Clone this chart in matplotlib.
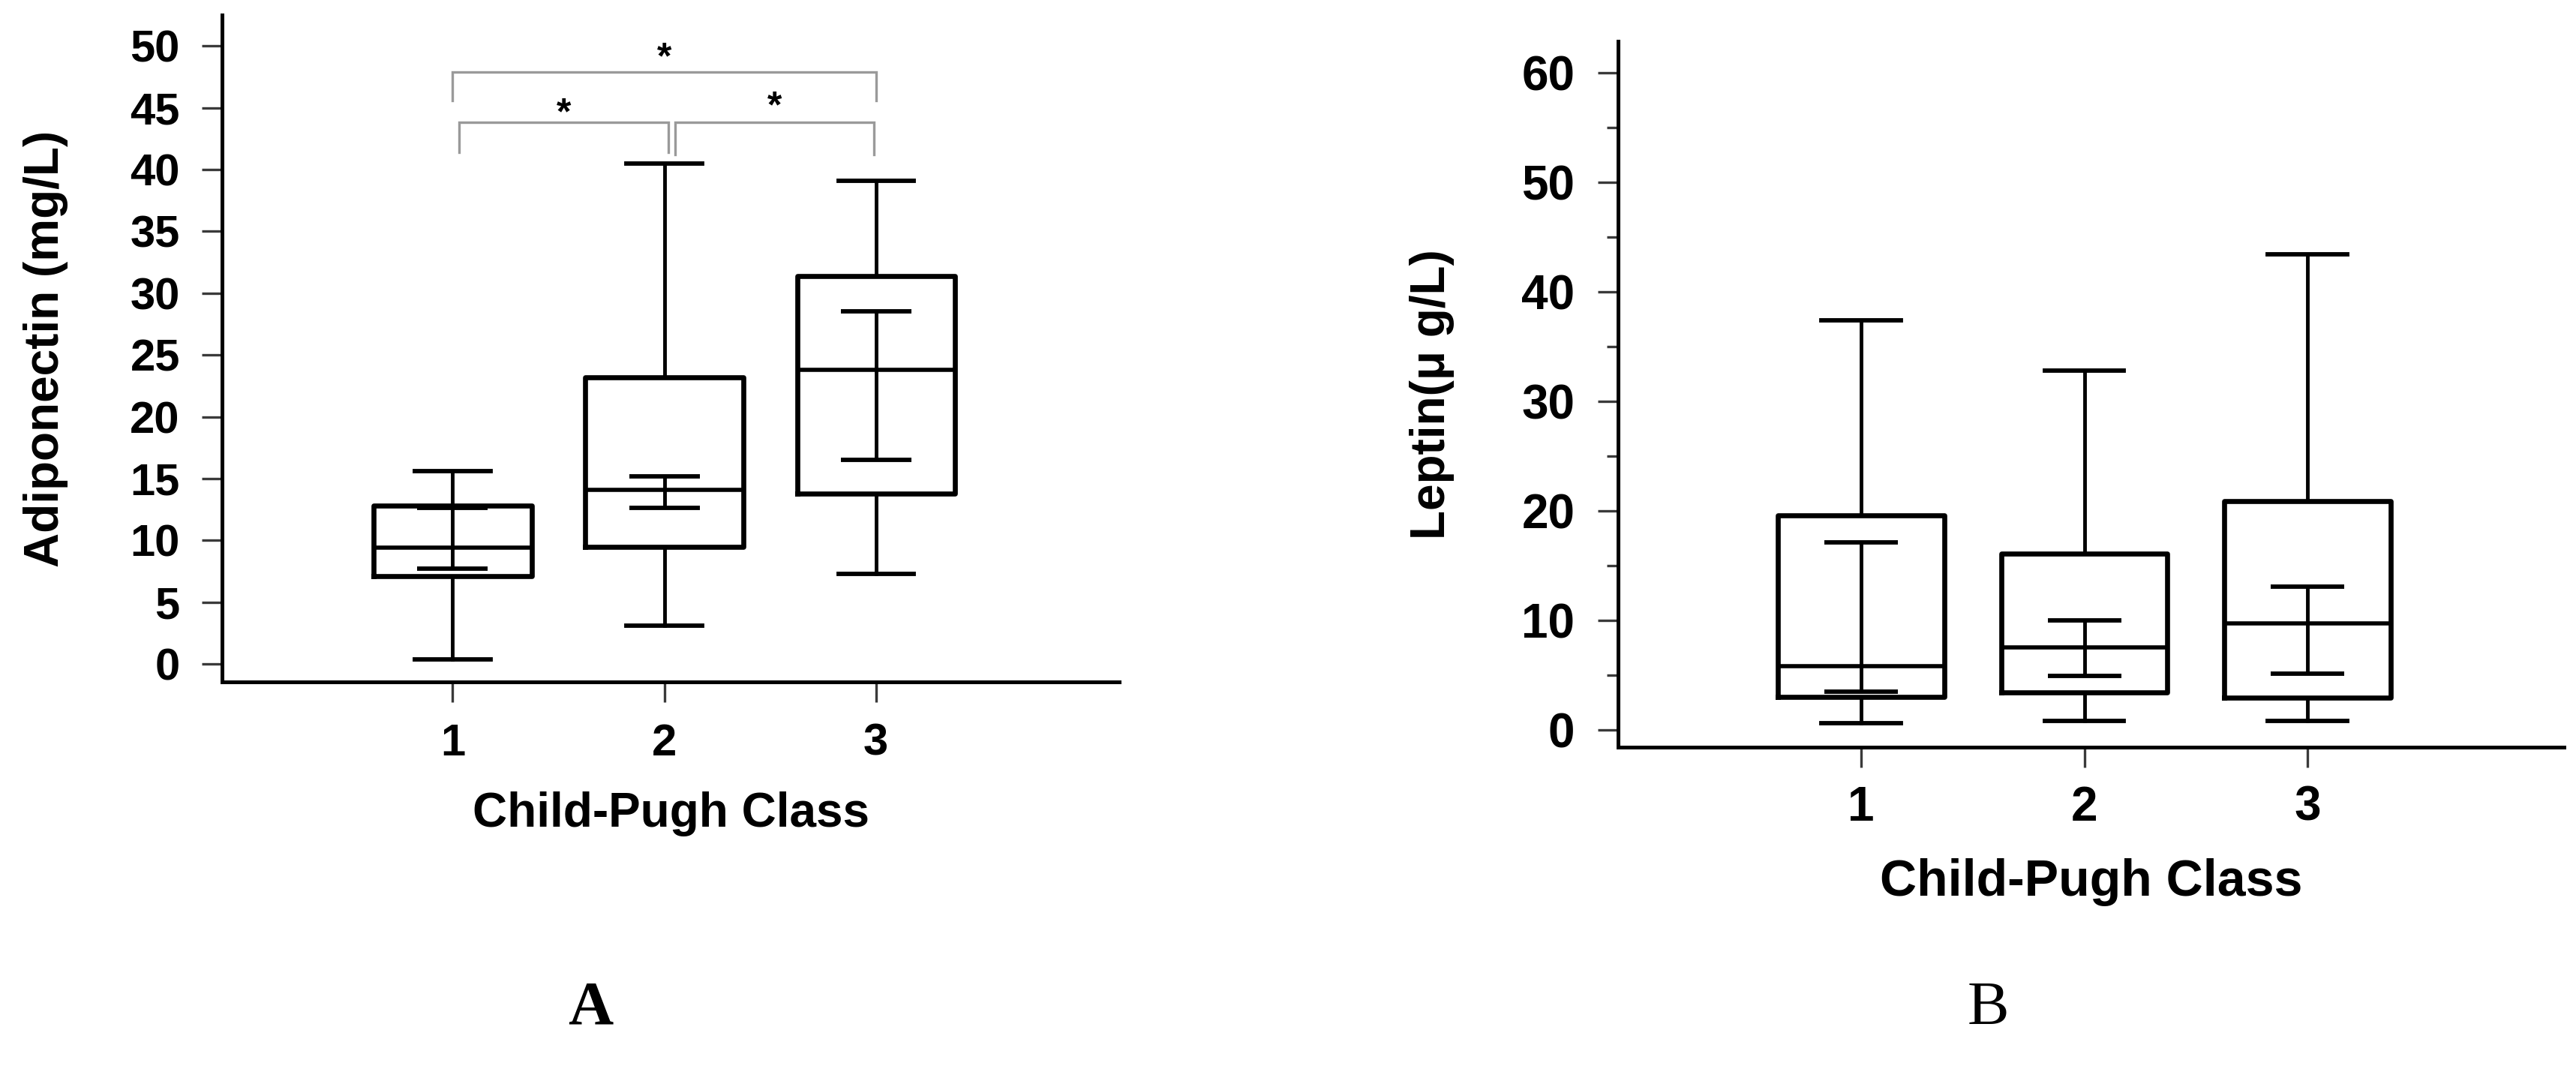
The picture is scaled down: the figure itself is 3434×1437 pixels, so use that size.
import matplotlib.pyplot as plt
from matplotlib.ticker import MultipleLocator

plt.rcParams['font.family'] = ['Liberation Sans', 'DejaVu Sans']
plt.rcParams['font.weight'] = 'bold'
plt.rcParams['axes.labelweight'] = 'bold'

classes = [1, 2, 3]
class_labels = ['1', '2', '3']

# Panel A: adiponectin (mg/L) by Child-Pugh class
adipo_whislo = [0.4, 3.1, 7.3]
adipo_q1 = [7.1, 9.5, 13.8]
adipo_med = [9.4, 14.1, 23.8]
adipo_q3 = [12.8, 23.2, 31.4]
adipo_whishi = [15.6, 40.5, 39.1]
adipo_err_lo = [7.7, 12.6, 16.5]
adipo_err_hi = [12.6, 15.2, 28.5]

# Panel B: leptin (ug/L) by Child-Pugh class
lep_whislo = [0.6, 0.8, 0.8]
lep_q1 = [3.0, 3.4, 2.9]
lep_med = [5.8, 7.5, 9.7]
lep_q3 = [19.6, 16.1, 20.9]
lep_whishi = [37.4, 32.8, 43.4]
lep_err_lo = [3.5, 4.9, 5.1]
lep_err_hi = [17.1, 10.0, 13.1]

# significance brackets on panel A
sig_pairs = [(1, 3), (1, 2), (2, 3)]
sig_bar_y = [47.9, 43.8, 43.8]
sig_leg_y = [45.6, 41.4, 41.2]
sig_star_y = [49.9, 45.4, 45.9]
sig_labels = ['*', '*', '*']


def draw_boxes(ax, whislo, q1, med, q3, whishi, err_lo, err_hi, capsize):
    stats = [dict(whislo=a, q1=b, med=c, q3=d, whishi=e, fliers=[])
             for a, b, c, d, e in zip(whislo, q1, med, q3, whishi)]
    ax.bxp(stats, positions=classes, widths=0.745, capwidths=0.355,
           showfliers=False,
           boxprops=dict(color='black', linewidth=4.8),
           whiskerprops=dict(color='black', linewidth=3.5),
           capprops=dict(color='black', linewidth=4.2),
           medianprops=dict(color='black', linewidth=4.0))
    mid = [(lo + hi) / 2 for lo, hi in zip(err_lo, err_hi)]
    half = [(hi - lo) / 2 for lo, hi in zip(err_lo, err_hi)]
    ax.errorbar(classes, mid, yerr=half, fmt='none', ecolor='black',
                elinewidth=3.5, capsize=capsize, capthick=4.2, zorder=3)


def style_axes(ax, ticksize):
    ax.spines[['top', 'right']].set_visible(False)
    ax.spines[['left', 'bottom']].set_linewidth(3.6)
    ax.set_xticks(classes, class_labels)
    ax.set_xlim(-0.09, 4.15)
    ax.tick_params(axis='both', which='major', length=19.5, width=2.4,
                   color='#3a3a3a', labelsize=ticksize)
    ax.tick_params(axis='y', pad=21)
    ax.tick_params(axis='x', pad=20)


fig = plt.figure(figsize=(34.34, 14.37), dpi=100)

# ---- panel A
ax1 = fig.add_axes([296 / 3434, 1 - 909 / 1437, 1196 / 3434, 889 / 1437])
draw_boxes(ax1, adipo_whislo, adipo_q1, adipo_med, adipo_q3, adipo_whishi,
           adipo_err_lo, adipo_err_hi, capsize=34)
style_axes(ax1, 43)
ax1.set_ylim(-1.45, 52.5)
ax1.set_yticks(range(0, 51, 5))

for (a, b), bar_y, leg_y, star_y, lab in zip(sig_pairs, sig_bar_y, sig_leg_y,
                                             sig_star_y, sig_labels):
    if b - a == 1:
        # the two short brackets leave a small gap just right of class 2
        a = a + (0.03 if a == 1 else 0.05)
        b = b + (0.02 if b == 2 else -0.01)
    ax1.plot([a, a, b, b], [leg_y, bar_y, bar_y, leg_y], color='#9a9a9a',
             linewidth=2.4, solid_joinstyle='miter', clip_on=False)
    ax1.text((a + b) / 2, star_y - 1.7, lab, ha='center', va='baseline',
             fontsize=36, fontweight='bold', color='black')

ax1.set_xlabel('Child-Pugh Class', fontsize=46)
ax1.xaxis.set_label_coords(0.5, -0.198)
ax1.xaxis.label.set_va('center')
ax1.set_ylabel('Adiponectin (mg/L)', fontsize=46)
ax1.yaxis.set_label_coords(-0.1965, 0.5)
ax1.yaxis.label.set_va('center')
ax1.yaxis.label.set_ha('center')

# ---- panel B
ax2 = fig.add_axes([2157 / 3434, 1 - 996 / 1437, 1261 / 3434, 941 / 1437])
draw_boxes(ax2, lep_whislo, lep_q1, lep_med, lep_q3, lep_whishi,
           lep_err_lo, lep_err_hi, capsize=35)
style_axes(ax2, 46)
ax2.set_ylim(-1.6, 62.9)
ax2.yaxis.set_major_locator(MultipleLocator(10))
ax2.yaxis.set_minor_locator(MultipleLocator(5))
ax2.tick_params(axis='y', which='minor', length=10.8, width=2.4, color='#3a3a3a')
ax2.tick_params(axis='y', pad=22)
ax2.tick_params(axis='x', pad=17)

ax2.set_xlabel('Child-Pugh Class', fontsize=49)
ax2.xaxis.set_label_coords(0.5, -0.191)
ax2.xaxis.label.set_va('center')
ax2.set_ylabel('Leptin(\u03bc g/L)', fontsize=46)
ax2.yaxis.set_label_coords(-0.1967, 0.5)
ax2.yaxis.label.set_va('center')
ax2.yaxis.label.set_ha('center')

# panel letters
fig.text(787 / 3434, 1 - 1345 / 1437, 'A', family='Liberation Serif',
         fontweight='bold', fontsize=60, ha='center', va='center')
fig.text(2650 / 3434, 1 - 1345 / 1437, 'B', family='Liberation Serif',
         fontweight='normal', fontsize=60, ha='center', va='center')

fig.savefig('out.png', dpi=100, facecolor='white')
